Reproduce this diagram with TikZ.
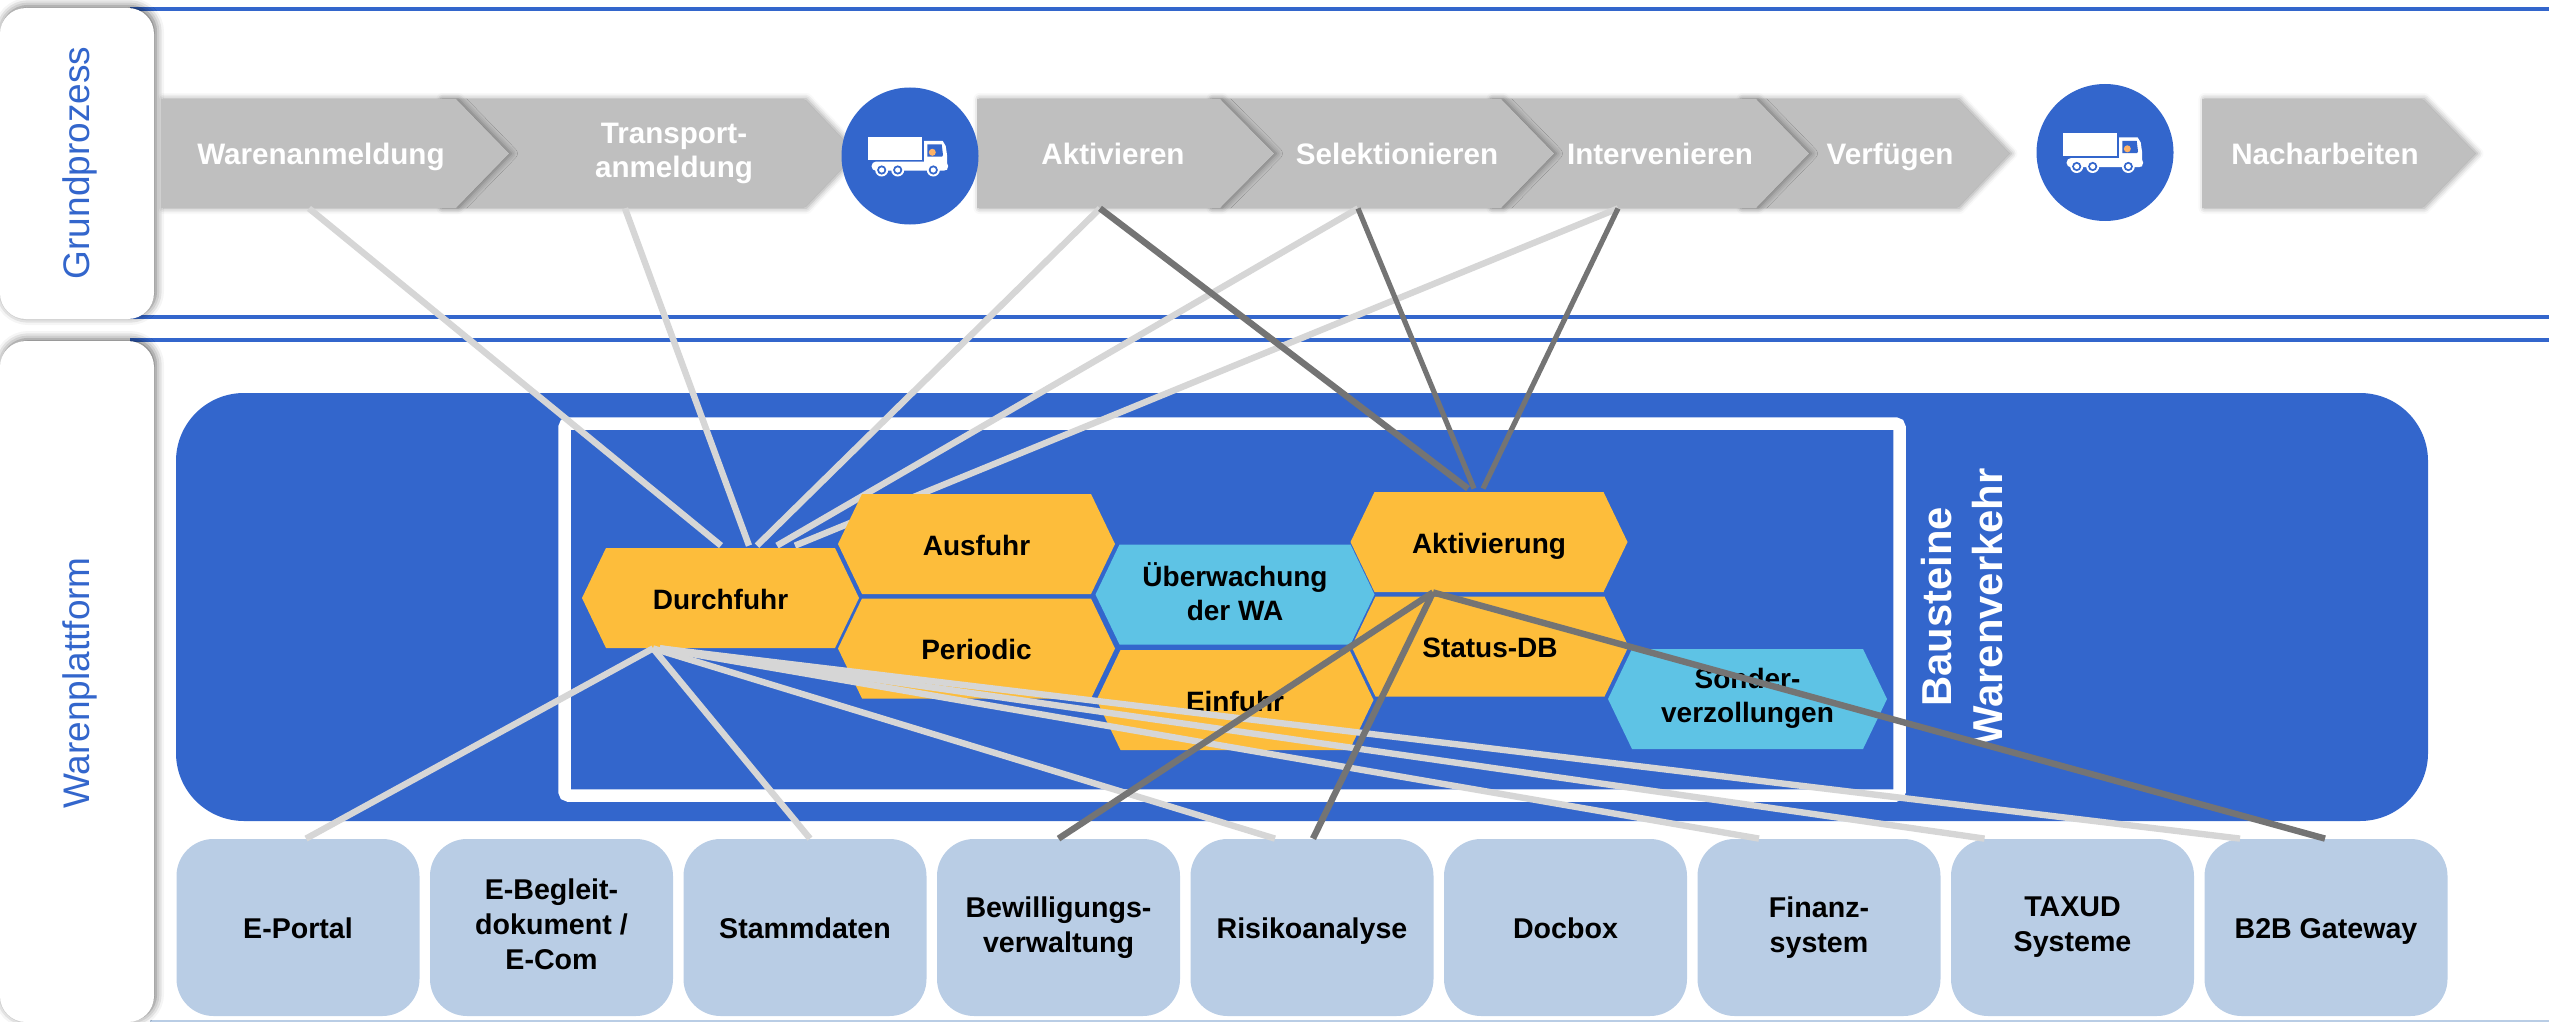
\documentclass[tikz,border=0pt]{standalone}
\usepackage{fontspec}
\setmainfont{Liberation Sans}
\usetikzlibrary{shadows.blur}
\definecolor{wblue}{HTML}{3366CC}
\definecolor{worange}{HTML}{FDBD3B}
\definecolor{wcyan}{HTML}{5EC3E5}
\definecolor{wgray}{HTML}{BFBFBF}
\definecolor{wbox}{HTML}{B9CDE5}
\definecolor{wlite}{HTML}{D6D6D6}
\definecolor{wdark}{HTML}{747474}
\newcommand{\wstrut}{\vrule width 0pt height 14.5pt depth 3.2pt\relax}
\newcommand{\truckicon}[1]{%
  \begin{scope}[shift={(#1)}]
    \fill[white] (-41.7,-19.3) rectangle (11.7,4);
    \fill[white,rounded corners=2pt] (-38.3,5.7) rectangle (38,14.7);
    \fill[white] (14,-15) -- (32.7,-15) -- (35.7,-10) -- (37,-1) -- (37,14) -- (14,14) -- cycle;
    \fill[wblue] (17.3,-11.7) -- (31.7,-11.7) -- (33,-1) -- (32,0.7) -- (17.3,0.7) -- cycle;
    \fill[orange!60!white] (22.3,-3.7) circle (3.5);
    \foreach \wx in {-28.3,-12.3,23.3}{
      \fill[white] (\wx,14) circle (6.5);
      \fill[wblue] (\wx,14) circle (4.6);
      \fill[white] (\wx,14) circle (2.6);
    }
  \end{scope}}
\newcommand{\chevron}[3]{% left, shoulder, tip
  \fill[wgray,blur shadow={shadow xshift=1.2pt,shadow yshift=0pt,shadow blur radius=3pt,shadow opacity=40}]
    (#1,99) -- (#2,99) -- (#3,153.5) -- (#2,208) -- (#1,208) -- cycle;}
\tikzset{
  rule/.style={draw=wblue,line width=2pt},
  panel/.style={fill=white,rounded corners=13pt,blur shadow={shadow xshift=1pt,shadow yshift=1pt,shadow blur radius=4pt,shadow opacity=60}},
  paneltext/.style={rotate=90,text=wblue,font=\fontsize{18.5}{22}\selectfont},
  chevtext/.style={text=white,font=\fontsize{14.8}{17.4}\selectfont\bfseries,align=center,minimum height=54.5pt,inner sep=0pt,
     execute at begin node=\wstrut,execute at end node=\wstrut},
  hexbox/.style={font=\fontsize{14}{17}\selectfont\bfseries,align=center,inner sep=0pt,minimum width=#1*0.5pt,minimum height=50pt,
     execute at begin node=\wstrut,execute at end node=\wstrut},
  hexo/.style={hexbox=277,path picture={\fill[worange]
     (path picture bounding box.west) -- ([xshift=12pt]path picture bounding box.north west) -- ([xshift=-12pt]path picture bounding box.north east)
     -- (path picture bounding box.east) -- ([xshift=-12pt]path picture bounding box.south east) -- ([xshift=12pt]path picture bounding box.south west) -- cycle;}},
  hexc/.style={hexbox=279,path picture={\fill[wcyan]
     (path picture bounding box.west) -- ([xshift=12pt]path picture bounding box.north west) -- ([xshift=-12pt]path picture bounding box.north east)
     -- (path picture bounding box.east) -- ([xshift=-12pt]path picture bounding box.south east) -- ([xshift=12pt]path picture bounding box.south west) -- cycle;}},
  sysbox/.style={fill=wbox,rounded corners=18.5pt,minimum width=121.5pt,minimum height=88.5pt,inner sep=0pt,align=center,font=\fontsize{14.3}{17.5}\selectfont\bfseries,
     execute at begin node=\wstrut,execute at end node=\wstrut},
  stopc/.style={circle,fill=wblue,minimum size=68.5pt,inner sep=0pt},
  lite/.style={draw=wlite,line width=3.2pt},
  dark/.style={draw=wdark,line width=3.2pt},
  darkthin/.style={draw=wdark,line width=2.6pt},
}
\begin{document}
\begin{tikzpicture}[x=0.5pt,y=-0.5pt]
\useasboundingbox (0,0) rectangle (2549,1022);
% horizontal rules
\coordinate (r1a) at (130,9);   \coordinate (r1b) at (2549,9);
\coordinate (r2a) at (130,317); \coordinate (r2b) at (2549,317);
\coordinate (r3a) at (130,340); \coordinate (r3b) at (2549,340);
\draw[rule] (r1a) -- (r1b);
\draw[rule] (r2a) -- (r2b);
\draw[rule] (r3a) -- (r3b);
\draw[wbox,line width=0.6pt] (150,1021) -- (2549,1021);
% side panels
\path[panel] (0,8) rectangle (154,319);
\path[panel] (0,341) rectangle (154,1022);
\node[paneltext] (grund) at (80,163) {Grundprozess};
\node[paneltext] (platt) at (80,683) {Warenplattform};
% chevrons (later ones lie below earlier ones)
\chevron{2202}{2422}{2475}
\chevron{1740}{1957}{2009}
\chevron{1490}{1756}{1809}
\chevron{1210}{1501}{1554}
\chevron{977}{1220}{1274}
\chevron{440}{804}{856}
\chevron{161}{456}{509}
\node[chevtext] (wa) at (321,153.5) {Warenanmeldung};
\node[chevtext] (ta) at (674,153.5) {Transport-\\anmeldung};
\node[chevtext] (ak) at (1113,153.5) {Aktivieren};
\node[chevtext] (se) at (1397,153.5) {Selektionieren};
\node[chevtext] (in) at (1660,153.5) {Intervenieren};
\node[chevtext] (ve) at (1890,153.5) {Verfügen};
\node[chevtext] (na) at (2325,153.5) {Nacharbeiten};
% stops
\node[stopc] (stopa) at (910,156) {};
\node[stopc] (stopb) at (2105,152.5) {};
\truckicon{910,156}
\truckicon{2105,152.5}
% platform
\fill[wblue,rounded corners=34pt] (176,393) rectangle (2428,821);
\draw[white,line width=6.25pt,rounded corners=2pt] (564.5,423.5) rectangle (1899.5,795.5);
\node[rotate=90,text=white,align=center,font=\fontsize{20.9}{25.5}\selectfont\bfseries] (bau) at (1962,607) {Bausteine\\Warenverkehr};
% systems
\node[sysbox] (s1) at (298,927.5) {E-Portal};
\node[sysbox] (s2) at (551.5,927.5) {E-Begleit-\\dokument /\\E-Com};
\node[sysbox] (s3) at (805,927.5) {Stammdaten};
\node[sysbox] (s4) at (1058.5,927.5) {Bewilligungs-\\verwaltung};
\node[sysbox] (s5) at (1312,927.5) {Risikoanalyse};
\node[sysbox] (s6) at (1565.5,927.5) {Docbox};
\node[sysbox] (s7) at (1819,927.5) {Finanz-\\system};
\node[sysbox] (s8) at (2072.5,927.5) {TAXUD\\Systeme};
\node[sysbox] (s9) at (2326,927.5) {B2B Gateway};
% building blocks: an empty placeholder first so that lines can be drawn below the hexagons
\node[hexo,path picture={}] (dur0) at (720.5,598) {};
% light lines above
\draw[lite] ([xshift=-6pt]wa.south) -- ([xshift=0.25pt,yshift=1pt]dur0.north);
\draw[lite] ([xshift=-24.5pt]ta.south) -- ([xshift=14.25pt,yshift=1pt]dur0.north);
\draw[lite] ([xshift=-6.5pt]ak.south) -- ([xshift=18.25pt,yshift=1pt]dur0.north);
\draw[lite] ([xshift=-19.5pt]se.south) -- ([xshift=28.25pt,yshift=1pt]dur0.north);
\draw[lite] ([xshift=-21pt]in.south) -- ([xshift=37.25pt,yshift=1pt]dur0.north);
% hexagons
\node[hexo] (dur) at (720.5,598) {Durchfuhr};
\node[hexo] (aus) at (976.5,544) {Ausfuhr};
\node[hexo] (per) at (976.5,648.5) {Periodic};
\node[hexc] (ueb) at (1235,594.5) {Überwachung\\der WA};
\node[hexo] (ein) at (1235,700) {Einfuhr};
\node[hexo] (akt) at (1489,542) {Aktivierung};
\node[hexo] (sta) at (1490,646.5) {Status-DB};
\node[hexc] (son) at (1747.5,699) {Sonder-\\verzollungen};
% light lines below
\draw[lite] ([xshift=-33.75pt]dur.south) -- ([xshift=4pt]s1.north);
\draw[lite] ([xshift=-33.75pt]dur.south) -- ([xshift=2.5pt]s3.north);
\draw[lite] ([xshift=-33.75pt]dur.south) -- ([xshift=-18.5pt]s5.north);
\draw[lite] ([xshift=-30.25pt]dur.south) -- ([xshift=-30pt]s7.north);
\draw[lite] ([xshift=-30.25pt]dur.south) -- ([xshift=-44pt]s8.north);
\draw[lite] ([xshift=-30.25pt]dur.south) -- ([xshift=-43pt]s9.north);
% dark lines
\draw[dark] ([xshift=-6.5pt]ak.south) -- ([xshift=-10.5pt,yshift=1.5pt]akt.north);
\draw[darkthin] ([xshift=-19.5pt]se.south) -- ([xshift=-7.5pt,yshift=1.5pt]akt.north);
\draw[darkthin] ([xshift=-21pt]in.south) -- ([xshift=-3pt,yshift=1.5pt]akt.north);
\draw[dark] ([xshift=-28pt]akt.south) -- (s4.north);
\draw[dark] ([xshift=-28pt]akt.south) -- ([xshift=0.5pt]s5.north);
\draw[dark] ([xshift=-28pt]akt.south) -- ([xshift=-0.5pt]s9.north);
\end{tikzpicture}
\end{document}
